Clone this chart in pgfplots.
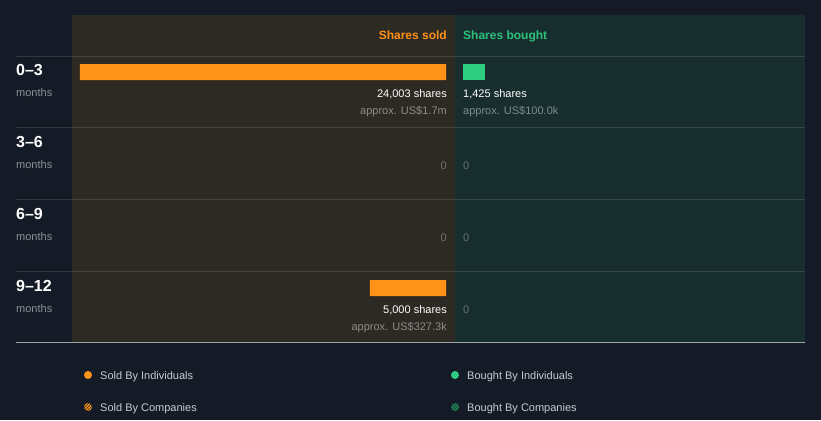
\documentclass[border=0pt]{standalone}
\usepackage{pgfplots}
\pgfplotsset{compat=1.18}
\usepackage{fontspec}
\setmainfont{Liberation Sans}
\usetikzlibrary{patterns}
\definecolor{bg}{HTML}{151B26}
\definecolor{lpanel}{HTML}{2D2923}
\definecolor{rpanel}{HTML}{182D2E}
\definecolor{sorange}{HTML}{FF931A}
\definecolor{sgreen}{HTML}{2ECC80}
\definecolor{tgreen}{HTML}{2EC27E}
\definecolor{approxl}{HTML}{8C8C8C}
\definecolor{approxr}{HTML}{7E8C8A}
\definecolor{zerol}{HTML}{757370}
\definecolor{zeror}{HTML}{5F7573}
\definecolor{monthsc}{HTML}{8E9199}
\definecolor{legc}{HTML}{C8CACE}
\definecolor{bottomline}{HTML}{A0A4AA}
\begin{document}
\begin{tikzpicture}[x=1pt,y=1pt]
% background (image coords: y_tikz = 420 - y_img)
\fill[bg] (0,0) rectangle (821,420);
\fill[lpanel] (72,77) rectangle (455,405);
\fill[rpanel] (455,77) rectangle (805,405);
% row separators
\foreach \yy in {57,128,200,272} {
  \draw[white,opacity=0.12,line width=1pt] (16,420-\yy) -- (805,420-\yy);
}
\draw[bottomline,line width=1pt] (16,420-343) -- (805,420-343);

% sold bars
\begin{axis}[
  at={(80pt,96pt)}, anchor=south west,
  scale only axis, width=366pt, height=288pt,
  hide axis, clip=false,
  xmin=0, xmax=24003, x dir=reverse,
  ymin=-0.5, ymax=3.5, y dir=reverse,
  xbar, bar width=16pt,
  restrict x to domain=0.5:1000000,
]
\addplot[fill=sorange, draw=none] coordinates {(24003,0) (0,1) (0,2) (5000,3)};
\end{axis}

% bought bars
\begin{axis}[
  at={(463pt,96pt)}, anchor=south west,
  scale only axis, width=243.97pt, height=288pt,
  hide axis, clip=false,
  xmin=0, xmax=16000,
  ymin=-0.5, ymax=3.5, y dir=reverse,
  xbar, bar width=16pt,
  restrict x to domain=0.5:1000000,
]
\addplot[fill=sgreen, draw=none] coordinates {(1425,0) (0,1) (0,2) (0,3)};
\end{axis}

% headers
\node[anchor=base east, inner sep=0pt, text=sorange, font=\fontsize{12}{14}\selectfont\bfseries] at (447,420-40) {Shares sold};
\node[anchor=base west, inner sep=0pt, text=tgreen, font=\fontsize{12}{14}\selectfont\bfseries] at (463,420-40) {Shares bought};

% row labels
\foreach \lab/\yy in {0--3/76, 3--6/148, 6--9/220, 9--12/292} {
  \node[anchor=base west, inner sep=0pt, text=white, font=\fontsize{16}{18}\selectfont\bfseries] at (16,420-\yy) {\lab};
  \node[anchor=base west, inner sep=0pt, text=monthsc, font=\fontsize{11}{13}\selectfont] at (16,420-\yy-20.5) {months};
}

% value labels row 0-3
\node[anchor=base east, inner sep=0pt, text=white, font=\fontsize{11}{13}\selectfont] at (447,420-98) {24,003 shares};
\node[anchor=base east, inner sep=0pt, text=approxl, font=\fontsize{11}{13}\selectfont] at (447,420-115) {approx. US\$1.7m};
\node[anchor=base west, inner sep=0pt, text=white, font=\fontsize{11}{13}\selectfont] at (463,420-98) {1,425 shares};
\node[anchor=base west, inner sep=0pt, text=approxr, font=\fontsize{11}{13}\selectfont] at (463,420-115) {approx. US\$100.0k};
% zeros
\foreach \yy in {170,242} {
  \node[anchor=base east, inner sep=0pt, text=zerol, font=\fontsize{11}{13}\selectfont] at (447,420-\yy) {0};
  \node[anchor=base west, inner sep=0pt, text=zeror, font=\fontsize{11}{13}\selectfont] at (463,420-\yy) {0};
}
% row 9-12
\node[anchor=base east, inner sep=0pt, text=white, font=\fontsize{11}{13}\selectfont] at (447,420-314) {5,000 shares};
\node[anchor=base east, inner sep=0pt, text=approxl, font=\fontsize{11}{13}\selectfont] at (447,420-331) {approx. US\$327.3k};
\node[anchor=base west, inner sep=0pt, text=zeror, font=\fontsize{11}{13}\selectfont] at (463,420-314) {0};

% legend
\fill[sorange] (88,420-375) circle (4);
\node[anchor=base west, inner sep=0pt, text=legc, font=\fontsize{11}{13}\selectfont] at (100,420-379) {Sold By Individuals};
\fill[sorange] (88,420-407) circle (4);
\fill[pattern=north east lines, pattern color=bg] (88,420-407) circle (4);
\node[anchor=base west, inner sep=0pt, text=legc, font=\fontsize{11}{13}\selectfont] at (100,420-411) {Sold By Companies};
\fill[sgreen] (455,420-375) circle (4);
\node[anchor=base west, inner sep=0pt, text=legc, font=\fontsize{11}{13}\selectfont] at (467,420-379) {Bought By Individuals};
\fill[sgreen!70!black] (455,420-407) circle (4);
\fill[pattern=north east lines, pattern color=bg] (455,420-407) circle (4);
\node[anchor=base west, inner sep=0pt, text=legc, font=\fontsize{11}{13}\selectfont] at (467,420-411) {Bought By Companies};
\end{tikzpicture}
\end{document}
